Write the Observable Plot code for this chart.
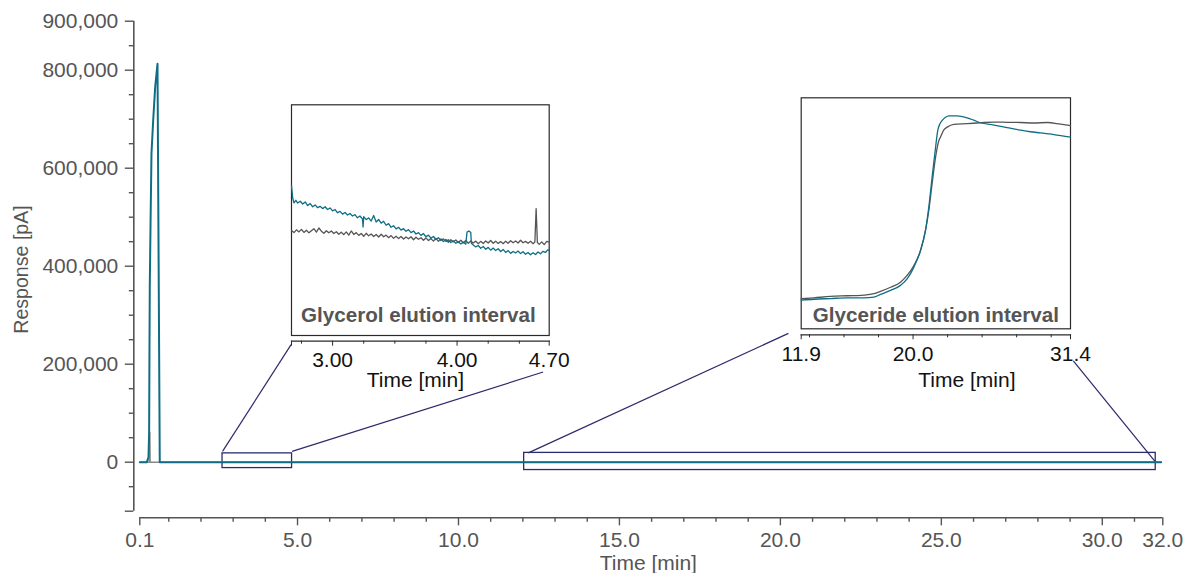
<!DOCTYPE html>
<html>
<head>
<meta charset="utf-8">
<script src="https://cdn.jsdelivr.net/npm/d3@7"></script>
<script src="https://cdn.jsdelivr.net/npm/@observablehq/plot@0.6"></script>
<style>
html, body { margin: 0; padding: 0; background: #fff; }
#wrap { position: relative; width: 1185px; height: 573px; overflow: hidden; background: #fff; }
#wrap svg { position: absolute; }
</style>
</head>
<body>
<div id="wrap"></div>
<script>
// ---------------- data ----------------
// main chromatogram [time (min), response (pA)]
const mainTeal = [[0.1,0],[0.31,0],[0.34,4000],[0.37,10000],[0.39,60000],[0.40,222000],[0.41,358000],[0.435,494000],[0.463,630000],[0.516,698000],[0.578,766000],[0.65,813000],[0.72,0],[31.83,0]];
const mainGray = [[0.1,0],[0.40,0],[0.41,60600],[0.42,0],[31.83,0]];

// main axis ticks
const xMajor = [0.1, 5, 10, 15, 20, 25, 30, 31.88];
const xMajorLabels = ["0.1", "5.0", "10.0", "15.0", "20.0", "25.0", "30.0", "32.0"];
const xMinor = [1,2,3,4,6,7,8,9,11,12,13,14,16,17,18,19,21,22,23,24,26,27,28,29,31];
const yMajor = [-100000, 0, 200000, 400000, 600000, 800000, 900000];
const yMajorLabels = ["", "0", "200,000", "400,000", "600,000", "800,000", "900,000"];
const yMinor = [-50000, 50000, 100000, 150000, 250000, 300000, 350000, 450000, 500000, 550000, 650000, 700000, 750000, 850000];

// zoom boxes on the main chart
const boxStart = [2.67, 12.04];
const boxEnd = [4.83, 31.66];
const boxLow = [-12000, -16000];
const boxHigh = [18000, 19000];

// connector lines (main-chart coordinates)
const linkFromX = [2.67, 4.83, 12.17, 31.65];
const linkFromY = [22000, 22000, 19000, 600];
const linkToX = [4.80, 12.63, 20.25, 29.10];
const linkToY = [240000, 184000, 263000, 206700];

// inset 1: glycerol elution interval [time, relative signal]
const glycerolTeal = [[2.670,65.0],[2.680,59.5],[2.690,57.5],[2.705,58.6],[2.72,57.4],[2.74,58.2],[2.76,57.0],[2.78,57.9],[2.80,56.3],[2.82,57.2],[2.84,55.8],[2.86,56.6],[2.88,55.4],[2.90,56.0],[2.92,55.0],[2.94,55.8],[2.96,54.6],[2.98,55.3],[3.00,54.0],[3.02,54.6],[3.04,53.2],[3.06,53.8],[3.08,52.6],[3.10,53.3],[3.12,52.2],[3.14,52.9],[3.16,51.8],[3.18,52.4],[3.20,51.0],[3.22,51.8],[3.24,50.5],[3.245,47.0],[3.25,51.5],[3.27,50.2],[3.29,51.0],[3.31,49.6],[3.33,52.0],[3.35,49.2],[3.37,50.3],[3.39,48.7],[3.41,49.5],[3.43,47.8],[3.45,48.5],[3.47,46.9],[3.49,47.6],[3.51,46.2],[3.53,46.9],[3.55,45.7],[3.57,46.3],[3.59,45.2],[3.61,45.9],[3.63,44.6],[3.65,45.3],[3.67,44.0],[3.69,44.6],[3.71,43.4],[3.73,44.2],[3.75,42.8],[3.77,43.5],[3.79,42.2],[3.81,42.9],[3.83,41.6],[3.85,42.4],[3.87,41.2],[3.89,41.9],[3.91,40.8],[3.93,41.5],[3.95,40.3],[3.97,41.0],[3.99,40.0],[4.01,40.6],[4.03,39.7],[4.05,40.4],[4.07,39.6],[4.08,44.8],[4.095,45.3],[4.11,44.6],[4.115,40.0],[4.13,39.2],[4.15,38.4],[4.17,39.0],[4.19,37.8],[4.21,38.6],[4.23,37.4],[4.25,38.2],[4.27,37.0],[4.29,37.9],[4.31,36.8],[4.33,37.6],[4.35,36.4],[4.37,37.3],[4.39,36.0],[4.41,36.8],[4.43,35.6],[4.45,36.4],[4.47,35.8],[4.49,36.6],[4.51,35.5],[4.53,36.3],[4.55,35.2],[4.57,36.0],[4.59,35.0],[4.61,35.9],[4.63,35.1],[4.65,36.2],[4.67,35.4],[4.69,36.5],[4.71,36.0],[4.73,37.2],[4.74,36.8]];
const glycerolGray = [[2.67,45.5],[2.69,44.6],[2.71,45.8],[2.73,44.9],[2.75,46.0],[2.77,44.7],[2.79,45.6],[2.81,44.5],[2.83,45.4],[2.85,46.3],[2.87,44.8],[2.89,46.6],[2.91,45.2],[2.93,44.3],[2.95,45.4],[2.97,44.5],[2.99,45.3],[3.01,44.2],[3.03,45.0],[3.05,43.9],[3.07,44.8],[3.09,43.7],[3.11,44.9],[3.13,43.5],[3.15,45.3],[3.17,43.8],[3.19,44.6],[3.21,43.4],[3.23,44.2],[3.25,43.0],[3.27,44.3],[3.29,43.2],[3.31,44.0],[3.33,42.9],[3.35,43.8],[3.37,42.7],[3.39,43.9],[3.41,42.8],[3.43,43.5],[3.45,42.4],[3.47,43.3],[3.49,42.1],[3.51,43.0],[3.53,42.0],[3.55,42.9],[3.57,41.8],[3.59,42.7],[3.61,41.9],[3.63,42.8],[3.65,41.5],[3.67,42.6],[3.69,41.7],[3.71,42.4],[3.73,41.3],[3.75,42.3],[3.77,41.2],[3.79,42.0],[3.81,40.9],[3.83,42.1],[3.85,40.8],[3.87,41.9],[3.89,40.7],[3.91,41.6],[3.93,40.4],[3.95,41.5],[3.97,40.6],[3.99,41.4],[4.01,40.3],[4.03,41.3],[4.05,40.2],[4.07,41.2],[4.09,40.0],[4.11,41.0],[4.13,40.1],[4.15,40.9],[4.17,39.8],[4.19,40.8],[4.21,39.9],[4.23,41.0],[4.25,40.1],[4.27,41.2],[4.29,40.0],[4.31,40.9],[4.33,39.9],[4.35,40.7],[4.37,39.8],[4.39,40.9],[4.41,40.0],[4.43,41.1],[4.45,40.2],[4.47,41.0],[4.49,40.1],[4.51,41.3],[4.53,40.2],[4.55,40.8],[4.57,40.0],[4.59,40.9],[4.61,39.8],[4.625,40.5],[4.635,55.0],[4.645,40.3],[4.66,39.5],[4.68,40.6],[4.70,39.4],[4.72,40.8],[4.74,40.5]];
const glycerolDomain = [2.67, 4.74];
const glycerolMajor = [2.67, 3, 4, 4.74];
const glycerolMajorLabels = ["", "3.00", "4.00", "4.70"];
const glycerolMinor = [2.75, 3.25, 3.5, 3.75, 4.25, 4.5];

// inset 2: glyceride elution interval [time, relative signal]
const glycerideTeal = [[11.90,12.4],[12.82,12.8],[14.02,13.1],[15.23,13.4],[16.44,13.4],[17.16,13.7],[17.64,14.9],[18.37,16.6],[19.09,18.8],[19.57,21.6],[20.06,26.7],[20.54,33.9],[20.90,42.6],[21.14,52.7],[21.38,65.7],[21.63,78.6],[21.79,85.9],[21.94,88.7],[22.11,90.2],[22.35,91.6],[22.59,92.2],[23.19,92.2],[23.92,91.3],[24.40,90.3],[24.88,89.2],[25.85,88.2],[26.81,87.1],[27.78,86.0],[28.50,85.3],[29.23,84.8],[30.19,84.1],[31.40,83.0]];
const glycerideGray = [[11.90,13.0],[12.82,13.4],[14.02,14.0],[15.23,14.3],[16.44,14.6],[17.16,15.2],[17.64,16.2],[18.37,18.0],[19.09,20.2],[19.57,23.1],[20.06,27.4],[20.54,33.9],[20.90,42.6],[21.14,51.2],[21.38,62.8],[21.63,74.3],[21.87,81.5],[21.99,83.0],[22.23,86.1],[22.47,87.3],[22.95,88.5],[23.92,88.8],[24.88,89.2],[25.85,89.5],[26.81,89.4],[27.78,89.3],[28.74,89.1],[29.71,89.3],[30.68,88.6],[31.40,88.0]];
const glycerideDomain = [11.9, 31.4];
const glycerideMajor = [11.9, 20.0, 31.4];
const glycerideMajorLabels = ["11.9", "20.0", "31.4"];
const glycerideMinor = [12.5, 15, 17.5, 22.5, 25, 27.5, 30];

// ---------------- styling ----------------
const FONT = '"Liberation Sans", Arial, Helvetica, sans-serif';
const TEAL = "#0f6e86";
const DARKGRAY = "#555555";
const NAVY = "#2e2b6c";
const wrap = document.getElementById("wrap");

function labeler(values, labels) {
  const m = new Map(values.map((v, i) => [v, labels[i]]));
  return d => m.has(d) ? m.get(d) : "";
}
const toXY = arr => arr.map(([t, v]) => ({t, v}));

// ---------------- main chart ----------------
const boxes = boxStart.map((s, i) => ({x1: s, x2: boxEnd[i], y1: boxLow[i], y2: boxHigh[i]}));
const links = linkFromX.map((x, i) => ({x1: x, y1: linkFromY[i], x2: linkToX[i], y2: linkToY[i]}));

const main = Plot.plot({
  width: 1185, height: 573,
  marginLeft: 133.3, marginRight: 22.7, marginTop: 20.7, marginBottom: 55.7,
  x: {domain: [0.1, 31.88], range: [139.3, 1162.3], axis: null},
  y: {domain: [-100000, 900000], range: [510.7, 20.7], axis: null},
  style: {fontFamily: FONT, fontSize: "21px", color: DARKGRAY, background: "transparent", overflow: "visible"},
  marks: [
    Plot.ruleX([0.1], {x: d => d, y1: -100000, y2: 900000, dx: -6, stroke: DARKGRAY, strokeWidth: 1.6}),
    Plot.ruleY([-100000], {y: d => d, x1: 0.1, x2: 31.88, dy: 6.6, stroke: DARKGRAY, strokeWidth: 1.6}),
    Plot.axisY(yMinor, {anchor: "left", tickSize: 4.5, tickFormat: () => "", strokeWidth: 1.4, label: null}),
    Plot.axisY(yMajor, {anchor: "left", tickSize: 8.5, tickPadding: 7, strokeWidth: 1.4, tickFormat: labeler(yMajor, yMajorLabels), label: null}),
    Plot.axisX(xMinor, {anchor: "bottom", tickSize: 4.5, tickFormat: () => "", strokeWidth: 1.4, label: null}),
    Plot.axisX(xMajor, {anchor: "bottom", tickSize: 8, tickPadding: 6.5, strokeWidth: 1.4, tickFormat: labeler(xMajor, xMajorLabels), label: null}),
    Plot.rect(boxes, {x1: "x1", x2: "x2", y1: "y1", y2: "y2", fill: "none", stroke: NAVY, strokeWidth: 1.3}),
    Plot.link(links, {x1: "x1", y1: "y1", x2: "x2", y2: "y2", stroke: NAVY, strokeWidth: 1.2}),
    Plot.line(toXY(mainGray), {x: "t", y: "v", stroke: "#8a8a8a", strokeWidth: 1.6}),
    Plot.line(toXY(mainTeal), {x: "t", y: "v", stroke: TEAL, strokeWidth: 2}),
    Plot.text(["Response [pA]"], {text: d => d, frameAnchor: "left", rotate: -90, dx: -111.6, textAnchor: "middle", lineAnchor: "middle", fill: DARKGRAY, fontSize: 19.6}),
    Plot.text(["Time [min]"], {text: d => d, frameAnchor: "bottom", dy: 52.5, textAnchor: "middle", lineAnchor: "bottom", fill: DARKGRAY, fontSize: 21})
  ]
});
main.style.left = "0px"; main.style.top = "0px";
wrap.appendChild(main);

// ---------------- insets ----------------
function inset(o) {
  const svg = Plot.plot({
    width: o.width, height: o.height,
    marginLeft: o.mL, marginRight: o.mR, marginTop: o.mT, marginBottom: o.mB,
    x: {domain: o.domain, axis: null},
    y: {domain: [0, 100], range: o.yRange, axis: null},
    style: {fontFamily: FONT, fontSize: "21px", color: "#111", background: "transparent", overflow: "visible"},
    marks: [
      Plot.frame({stroke: "#2a2a2a", strokeWidth: 1.2, insetBottom: o.insetB}),
      Plot.frame({anchor: "bottom", stroke: "#2a2a2a", strokeWidth: 1.2}),
      Plot.line(toXY(o.gray), {x: "t", y: "v", stroke: "#555", strokeWidth: 1.3, curve: o.curve}),
      Plot.line(toXY(o.teal), {x: "t", y: "v", stroke: TEAL, strokeWidth: 1.3, curve: o.curve}),
      Plot.axisX(o.minor, {anchor: "bottom", tickSize: 3, tickFormat: () => "", stroke: "#2a2a2a", label: null}),
      Plot.axisX(o.major, {anchor: "bottom", tickSize: 5, tickPadding: o.tickPad, stroke: "#2a2a2a", fill: "#111", tickFormat: labeler(o.major, o.majorLabels), label: null}),
      Plot.text([o.title], {text: d => d, frameAnchor: "bottom", dx: o.titleDx, dy: o.titleDy, textAnchor: "middle", lineAnchor: "bottom", fontWeight: "bold", fill: "#555", fontSize: 20.6}),
      Plot.text(["Time [min]"], {text: d => d, frameAnchor: "bottom", dx: o.labelDx, dy: o.labelDy, textAnchor: "middle", lineAnchor: "top", fill: "#111", fontSize: 21})
    ]
  });
  svg.style.left = o.left + "px"; svg.style.top = o.top + "px";
  wrap.appendChild(svg);
}

inset({
  left: 271, top: 100, width: 300, height: 290,
  mL: 20, mR: 22.3, mT: 4.3, mB: 49.3, insetB: 5.7, yRange: [235, 4.3], tickPad: 5.5,
  domain: glycerolDomain, major: glycerolMajor, majorLabels: glycerolMajorLabels, minor: glycerolMinor,
  teal: glycerolTeal, gray: glycerolGray, curve: "linear",
  title: "Glycerol elution interval", titleDx: -2, titleDy: -19, labelDx: -5, labelDy: 31
});

inset({
  left: 760, top: 90, width: 350, height: 310,
  mL: 40.7, mR: 40, mT: 7.3, mB: 65.7, insetB: 6, yRange: [238.3, 7.3], tickPad: 6.5,
  domain: glycerideDomain, major: glycerideMajor, majorLabels: glycerideMajorLabels, minor: glycerideMinor,
  teal: glycerideTeal, gray: glycerideGray, curve: "monotone-x",
  title: "Glyceride elution interval", titleDx: 0, titleDy: -13.3, labelDx: 31, labelDy: 37.4
});
</script>
</body>
</html>
